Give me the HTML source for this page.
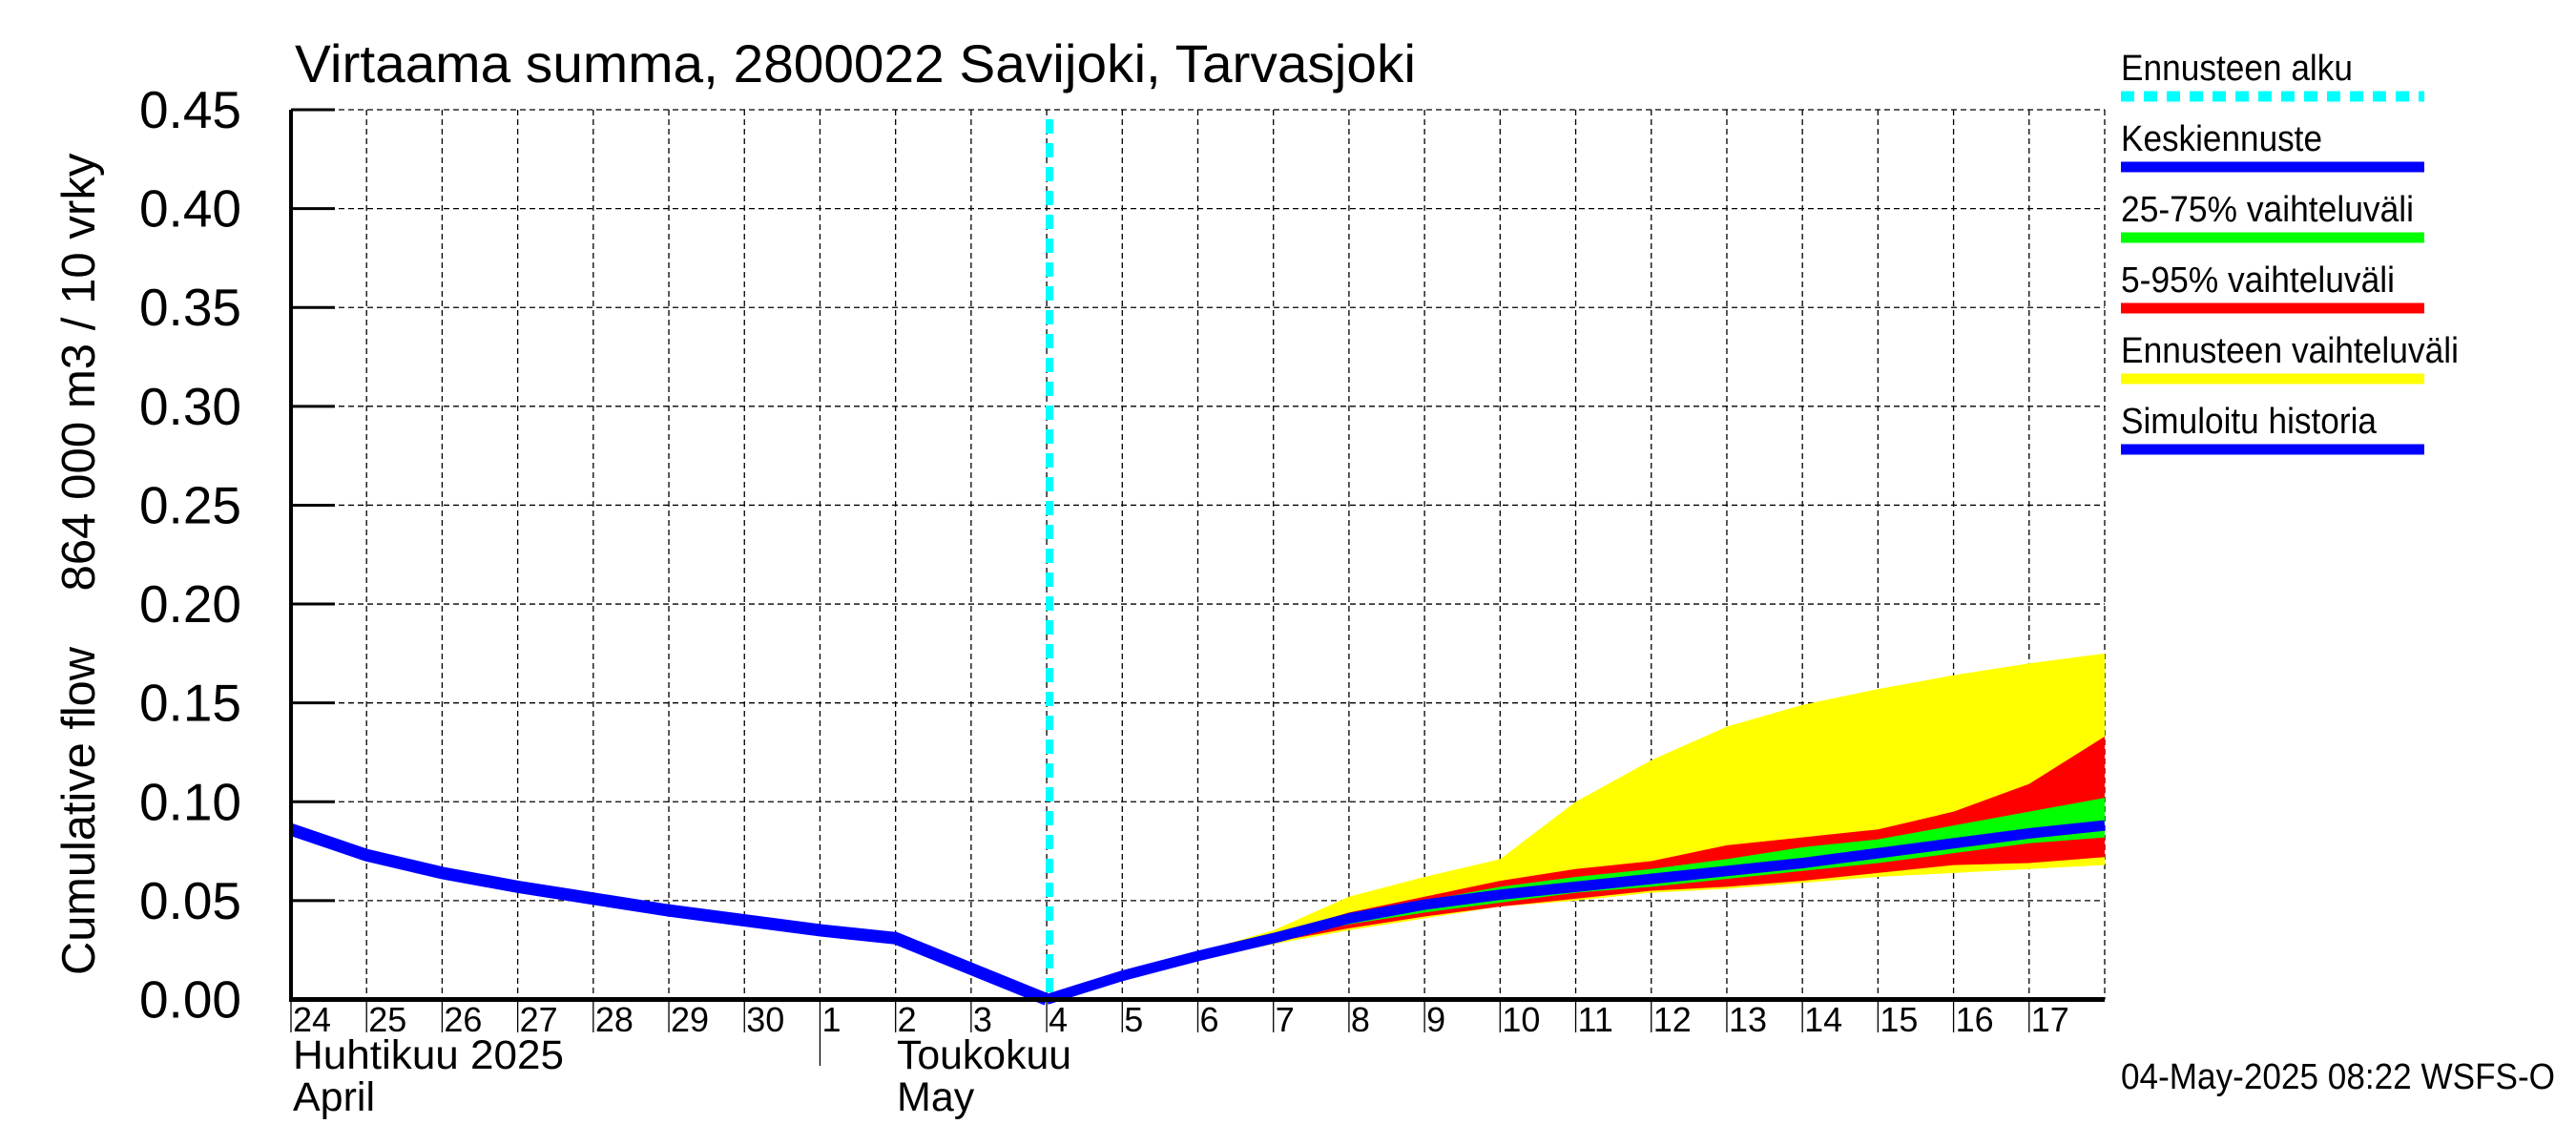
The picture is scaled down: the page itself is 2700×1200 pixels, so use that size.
<!DOCTYPE html>
<html><head><meta charset="utf-8"><style>
html,body{margin:0;padding:0;background:#fff}
svg{display:block;font-family:"Liberation Sans",sans-serif}
</style></head><body>
<svg id="chart" width="2700" height="1200" viewBox="0 0 2700 1200" xmlns="http://www.w3.org/2000/svg">
<g id="grid"></g>
<g id="bands"></g>
<g id="lines"></g>
<g id="axes"></g>
<text x="309" y="86" font-size="56" textLength="1175" lengthAdjust="spacingAndGlyphs">Virtaama summa, 2800022 Savijoki, Tarvasjoki</text>
<text transform="translate(99,850) rotate(-90)" text-anchor="middle" font-size="49" textLength="344" lengthAdjust="spacingAndGlyphs">Cumulative flow</text>
<text transform="translate(99,390) rotate(-90)" text-anchor="middle" font-size="49" textLength="459" lengthAdjust="spacingAndGlyphs">864 000 m3 / 10 vrky</text>
<text x="307" y="1120" font-size="43" textLength="284" lengthAdjust="spacingAndGlyphs">Huhtikuu  2025</text>
<text x="307" y="1164" font-size="43">April</text>
<text x="940" y="1120" font-size="43" textLength="183" lengthAdjust="spacingAndGlyphs">Toukokuu</text>
<text x="940" y="1164" font-size="43">May</text>
<g id="legend"></g>
<text x="2223" y="1141" font-size="38" textLength="455" lengthAdjust="spacingAndGlyphs">04-May-2025 08:22 WSFS-O</text>
</svg>
<script>
const dayLabels = ["24","25","26","27","28","29","30","1","2","3","4","5","6","7","8","9","10","11","12","13","14","15","16","17"];
const yTicks = [0,0.05,0.10,0.15,0.20,0.25,0.30,0.35,0.40,0.45];
const histDays = [0,1,2,3,4,5,6,7,8,10];
const histVals = [0.086,0.073,0.064,0.057,0.051,0.045,0.040,0.035,0.031,0.0];
const fcDays = [10,11,12,13,14,15,16,17,18,19,20,21,22,23,24];
const yellowHi = [0,0.013,0.024,0.035,0.052,0.062,0.071,0.100,0.121,0.138,0.149,0.157,0.164,0.170,0.175];
const redHi =    [0,0.012,0.023,0.033,0.044,0.052,0.060,0.066,0.070,0.078,0.082,0.086,0.095,0.109,0.133];
const greenHi =  [0,0.012,0.022,0.032,0.043,0.050,0.057,0.062,0.066,0.071,0.077,0.081,0.088,0.095,0.102];
const median =   [0,0.012,0.022,0.031,0.041,0.048,0.053,0.057,0.061,0.065,0.069,0.074,0.079,0.084,0.088];
const greenLo =  [0,0.012,0.021,0.030,0.038,0.044,0.049,0.054,0.057,0.061,0.065,0.069,0.074,0.079,0.082];
const redLo =    [0,0.011,0.021,0.029,0.036,0.042,0.047,0.051,0.055,0.057,0.060,0.064,0.068,0.069,0.072];
const yellowLo = [0,0.011,0.020,0.028,0.035,0.041,0.047,0.050,0.054,0.056,0.059,0.062,0.064,0.066,0.068];
const forecastStartDay = 10;

const X0=305,X1=2206,Y0=1047.5,Y1=115,NDAYS=24,YMAX=0.45;
const xs=d=>X0+d*(X1-X0)/NDAYS;
const ys=v=>Y0-v/YMAX*(Y0-Y1);
const NS="http://www.w3.org/2000/svg";
function mk(tag,attrs,parent){const e=document.createElementNS(NS,tag);for(const k in attrs)e.setAttribute(k,attrs[k]);parent.appendChild(e);return e;}
const grid=document.getElementById('grid'),bands=document.getElementById('bands'),lines=document.getElementById('lines'),axes=document.getElementById('axes'),legend=document.getElementById('legend');

for(let i=1;i<NDAYS;i++){const l=mk('line',{x1:xs(i),x2:xs(i),y1:Y1,y2:Y0,stroke:'#000','stroke-width':1.3,'stroke-dasharray':'6,4'},grid);
}
mk('line',{x1:X1,x2:X1,y1:Y1,y2:Y0,stroke:'#000','stroke-width':1.3,'stroke-dasharray':'6,4'},grid);
yTicks.forEach(v=>{if(v>0){const l=mk('line',{x1:X0,x2:X1,y1:ys(v),y2:ys(v),stroke:'#000','stroke-width':1.3,'stroke-dasharray':'6,4'},grid);
}});

function band(hi,lo,color,name){
 let pts=fcDays.map((d,i)=>xs(d)+','+ys(hi[i]));
 for(let i=fcDays.length-1;i>=0;i--)pts.push(xs(fcDays[i])+','+ys(lo[i]));
 const p=mk('polygon',{points:pts.join(' '),fill:color},bands);
 
 
}
band(yellowHi,yellowLo,'#ffff00','forecast-range-band');
band(redHi,redLo,'#ff0000','band-5-95');
band(greenHi,greenLo,'#00ff00','band-25-75');

const med=mk('polyline',{points:fcDays.map((d,i)=>xs(d)+','+ys(median[i])).join(' '),fill:'none',stroke:'#0000ff','stroke-width':11},lines);


const hist=mk('polyline',{points:histDays.map((d,i)=>xs(d)+','+ys(histVals[i])).join(' '),fill:'none',stroke:'#0000ff','stroke-width':13},lines);


const fs=mk('line',{x1:xs(forecastStartDay)+3,x2:xs(forecastStartDay)+3,y1:Y1+10,y2:Y0,stroke:'#00ffff','stroke-width':8,'stroke-dasharray':'15,10'},lines);



mk('line',{x1:X0,x2:X0,y1:Y1,y2:Y0+2,stroke:'#000','stroke-width':4},axes);
mk('line',{x1:X0-2,x2:X1,y1:Y0,y2:Y0,stroke:'#000','stroke-width':5},axes);
yTicks.forEach(v=>{
 mk('line',{x1:X0,x2:X0+46,y1:ys(v),y2:ys(v),stroke:'#000','stroke-width':3},axes);
 const t=mk('text',{x:X0-52,y:ys(v)+19,'text-anchor':'end','font-size':55},axes);
 t.textContent=v.toFixed(2);
 
 
});
dayLabels.forEach((s,i)=>{
 const big=(i===7);
 mk('line',{x1:xs(i),x2:xs(i),y1:Y0,y2:big?1117:1082,stroke:'#000','stroke-width':1.3},axes);
 const t=mk('text',{x:xs(i)+2,y:1081,'font-size':36},axes);
 t.textContent=s;
 
 
});

const leg=[["Ennusteen alku","#00ffff",true,243],["Keskiennuste","#0000ff",false,211],["25-75% vaihteluväli","#00ff00",false,307],["5-95% vaihteluväli","#ff0000",false,287],["Ennusteen vaihteluväli","#ffff00",false,354],["Simuloitu historia","#0000ff",false,268]];
leg.forEach((e,i)=>{
 const y=84+i*74;
 const t=mk('text',{x:2223,y:y,'font-size':38,textLength:e[3],lengthAdjust:'spacingAndGlyphs'},legend);
 t.textContent=e[0];
 
 
 const a={x1:2223,x2:2541,y1:y+17,y2:y+17,stroke:e[1],'stroke-width':11};
 if(e[2])a['stroke-dasharray']='14,10';
 const l=mk('line',a,legend);
 
 
});
</script>
</body></html>
